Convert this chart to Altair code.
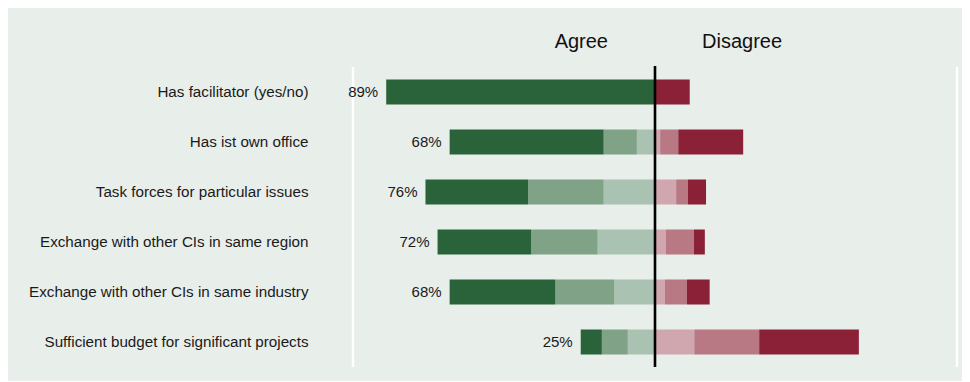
import altair as alt
import pandas as pd

items = [
    "Has facilitator (yes/no)",
    "Has ist own office",
    "Task forces for particular issues",
    "Exchange with other CIs in same region",
    "Exchange with other CIs in same industry",
    "Sufficient budget for significant projects",
]
pct_labels = ["89%", "68%", "76%", "72%", "68%", "25%"]

# agree side (percent), from outermost to centre
strongly_agree = [89, 51, 34, 31, 35, 7]
agree = [0, 11, 25, 22, 19.5, 8.6]
somewhat_agree = [0, 6, 17, 19, 13.5, 9]
# disagree side (percent), from centre outward
somewhat_disagree = [0, 1.7, 7, 3.6, 3.3, 13]
disagree = [0, 6, 3.9, 9.3, 7.3, 21.5]
strongly_disagree = [11.5, 21.5, 6, 3.6, 7.5, 33]

levels = ["Strongly agree", "Agree", "Somewhat agree",
          "Somewhat disagree", "Disagree", "Strongly disagree"]
colors = ["#2A6339", "#80A287", "#AAC2B1", "#D0A6AF", "#B87985", "#8A2136"]

rows = []
lab_rows = []
for i, it in enumerate(items):
    sa, a, wa = strongly_agree[i], agree[i], somewhat_agree[i]
    wd, d, sd = somewhat_disagree[i], disagree[i], strongly_disagree[i]
    segs = [
        ("Somewhat agree", -wa, 0),
        ("Agree", -(wa + a), -wa),
        ("Strongly agree", -(wa + a + sa), -(wa + a)),
        ("Somewhat disagree", 0, wd),
        ("Disagree", wd, wd + d),
        ("Strongly disagree", wd + d, wd + d + sd),
    ]
    for lev, s, e in segs:
        if e - s > 0:
            rows.append({"item": it, "level": lev, "start": s, "end": e})
    lab_rows.append({"item": it, "pos": -(sa + a + wa), "label": pct_labels[i]})

df = pd.DataFrame(rows)
labdf = pd.DataFrame(lab_rows)

FONT = "Liberation Sans"

yenc = alt.Y("item:N", sort=items,
             scale=alt.Scale(paddingInner=0.5, paddingOuter=0.25),
             axis=alt.Axis(title=None, ticks=False, domain=False, grid=False,
                           labelFontSize=15.2, labelFont=FONT, labelColor="#1a1a1a",
                           labelPadding=45, labelLimit=400))
xscale = alt.Scale(domain=[-100, 100], nice=False, zero=False)

bars = alt.Chart(df).mark_bar().encode(
    x=alt.X("start:Q", scale=xscale, axis=None),
    x2="end:Q",
    y=yenc,
    color=alt.Color("level:N", scale=alt.Scale(domain=levels, range=colors), legend=None),
)

labels = alt.Chart(labdf).mark_text(
    align="right", baseline="middle", dx=-8, fontSize=15, font=FONT, color="#1a1a1a"
).encode(
    x=alt.X("pos:Q", scale=xscale, axis=None),
    y=alt.Y("item:N", sort=items),
    text="label:N",
)

white_lines = alt.Chart(pd.DataFrame({"v": [-100, 100]})).mark_rule(
    color="white", strokeWidth=2.5
).encode(
    x=alt.X("v:Q", scale=xscale, axis=None),
    y=alt.value(0), y2=alt.value(300),
)

center = alt.Chart(pd.DataFrame({"v": [0]})).mark_rule(
    color="black", strokeWidth=2.6
).encode(
    x=alt.X("v:Q", scale=xscale, axis=None),
    y=alt.value(-1), y2=alt.value(300),
)

head_agree = alt.Chart(pd.DataFrame({"v": [0], "t": ["Agree"]})).mark_text(
    align="right", baseline="alphabetic", dx=-47, fontSize=20, font=FONT, color="#111"
).encode(x=alt.X("v:Q", scale=xscale, axis=None), y=alt.value(-19), text="t:N")

head_dis = alt.Chart(pd.DataFrame({"v": [0], "t": ["Disagree"]})).mark_text(
    align="left", baseline="alphabetic", dx=47, fontSize=20, font=FONT, color="#111"
).encode(x=alt.X("v:Q", scale=xscale, axis=None), y=alt.value(-19), text="t:N")

chart = alt.layer(white_lines, bars, labels, center, head_agree, head_dis).properties(
    width=604, height=300,
    autosize=alt.AutoSizeParams(type="none"),
    padding={"left": 345, "top": 59, "right": 5, "bottom": 14},
    background="#E8EEEA",
).configure_view(stroke=None)

chart.save("out.html", embed_options={"renderer": "svg", "actions": False})
